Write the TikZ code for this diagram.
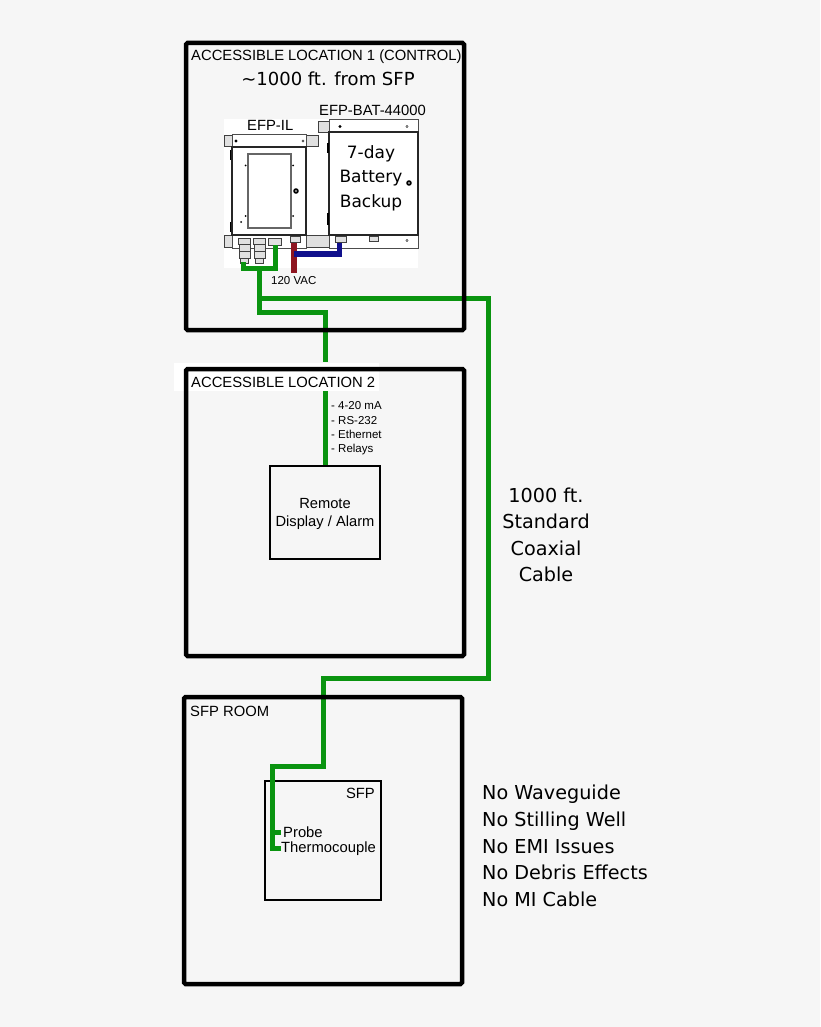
\documentclass[tikz,border=0pt]{standalone}
\usepackage{fontspec}
\setmainfont{Liberation Sans}
\newfontfamily\bigfam{DejaVu Sans}
\definecolor{pagebg}{HTML}{F6F6F6}
\definecolor{wire}{HTML}{0A9410}
\definecolor{acred}{HTML}{8E1520}
\definecolor{dcblue}{HTML}{10108C}
\tikzset{
 room/.style={draw=black,line width=4.5pt,rounded corners=1.5pt},
 box/.style={draw=black,line width=1.4pt},
 wirepath/.style={draw=wire,line width=5pt},
 part/.style={draw=black!85,line width=1.3pt,fill=white},
 thin part/.style={draw=black!70,line width=0.8pt,fill=white},
 gland/.style={draw=black!75,line width=0.9pt,fill=black!12},
 lab/.style={font=\fontsize{14.8}{16}\selectfont,anchor=west,inner sep=0pt},
 small/.style={font=\fontsize{11.5}{13}\selectfont,anchor=west,inner sep=0pt},
 biglab/.style={font=\bigfam\fontsize{17}{20}\selectfont,inner sep=0pt},
}
\begin{document}
\begin{tikzpicture}[x=1pt,y=-1pt]
\useasboundingbox (0,0) rectangle (820,1027);
\fill[pagebg] (0,0) rectangle (820,1027);
% coordinates of the wire runs
\coordinate (hub) at (259,268);
\coordinate (j1) at (259,298);
\coordinate (j2) at (259,312);
\coordinate (j3) at (325,312);
\coordinate (j4) at (325,362);
\coordinate (r1) at (488,298);
\coordinate (r2) at (488,678);
\coordinate (r3) at (323,678);
\coordinate (r4) at (323,766);
\coordinate (r5) at (272,766);
% white panels
\fill[white] (224,119) rectangle (418,268);
% rooms' content wires first
\draw[wirepath] (hub) -- (j2) -- (j3) -- (j4);
\draw[wirepath,line join=miter] (j1) -- (r1) -- (r2) -- (r3) -- (r4) -- (r5) -- (272,848) -- (281,848);
\draw[wirepath] (272,832) -- (281,832);
\fill[white] (174,363) rectangle (379,391);
\draw[room] (186,43) rectangle (464,330);
\draw[room] (186,369) rectangle (464,656);
\draw[room] (184,697) rectangle (462,984);
% EFP-IL enclosure
\draw[gland] (224,135) rectangle (232,146);
\draw[gland] (306,135) rectangle (318,146);
\draw[gland] (224,235) rectangle (232,247);
\draw[gland] (306,235) rectangle (329,247);
\draw[thin part] (232,134) rectangle (306,147);
\draw[thin part] (232,235) rectangle (306,248);
\draw[part] (232,147) rectangle (306,235);
\draw[thin part,draw=black!60,line width=1.2pt] (248,154) rectangle (291,228);
\fill (236,141) circle (1.6);
\draw (303,141) circle (1.2);
\fill (296,191) circle (2.8);
\fill[white] (296,191) circle (0.8);
\foreach \p in {(245.5,165.5),(293,165.5),(245.5,216),(293,216),(241,222)} \fill \p circle (1);
\draw[line width=1.5pt] (230.5,150) -- (230.5,160) (230.5,222) -- (230.5,232);
% battery enclosure
\draw[gland] (318,121) rectangle (329,132);
\draw[thin part] (329,119) rectangle (418,132);
\draw[thin part] (329,235) rectangle (418,248);
\draw[part] (329,132) rectangle (418,235);
\fill (340,126.5) circle (1.6);
\draw (407,126.5) circle (1.2);
\draw (407,240.5) circle (1.2);
\fill (409,183) circle (2.8);
\fill[white] (409,183) circle (0.8);
\draw[line width=1.5pt] (328,143) -- (328,153) (328,213) -- (328,225);
\draw[gland] (369,236) rectangle (378,241);
% cable glands
\foreach \x in {244.7,259.5} {
 \draw[gland] (\x-6,238) rectangle (\x+6,244);
 \draw[gland] (\x-5.5,244) rectangle (\x+5.5,251);
 \draw[gland] (\x-5.5,251) rectangle (\x+5.5,258);
 \draw[gland] (\x-4,258) rectangle (\x+4,263);
}
\draw[gland] (268,238) rectangle (281,245);
\draw[gland] (290,236) rectangle (300,242);
\draw[gland] (335,236) rectangle (346,242);
% local power and cable links
\draw[acred,line width=5.5pt] (294,243) -- (294,273);
\draw[dcblue,line width=5.5pt] (294,254) -- (339.5,254) -- (339.5,243);
\draw[wirepath] (275,245) -- (275,268) -- (243,268) -- (243,262);
% labels
\node[lab,anchor=north west] (l1) at (191,50) {ACCESSIBLE LOCATION 1 (CONTROL)};
\node[biglab] (dist) at (328,79) {\fontsize{18}{20}\selectfont\textasciitilde1000 ft. from SFP};
\node[lab] (bat) at (319,110) {EFP-BAT-44000};
\node[lab] (il) at (247,125) {EFP-IL};
\node[biglab,align=center] (batt) at (371,178) {7-day\\[4.5pt]Battery\\[4.5pt]Backup};
\node[small] (vac) at (271,281) {120 VAC};
\node[lab] (l2) at (191,382) {ACCESSIBLE LOCATION 2};
\node[small,align=left] (sig) at (331,428.5) {- 4-20 mA\\[1.4pt]- RS-232\\[1.4pt]- Ethernet\\[1.4pt]- Relays};
\node[box,minimum width=110pt,minimum height=93pt,inner sep=0pt,align=center,font=\fontsize{14.7}{18}\selectfont] (remote) at (325,512.5) {\rule{0pt}{14pt}Remote\\Display / Alarm};
\draw[wirepath] (325,391) -- (remote.north);
\node[biglab,align=center] (coax) at (546,535) {\fontsize{19.2}{20}\selectfont 1000 ft.\\[6.5pt]\fontsize{19.2}{20}\selectfont Standard\\[6.5pt]\fontsize{19.2}{20}\selectfont Coaxial\\[6.5pt]\fontsize{19.2}{20}\selectfont Cable};
\node[lab] (l3) at (190,711) {SFP ROOM};
\node[box,minimum width=116pt,minimum height=119pt,inner sep=0pt] (sfp) at (323,840.5) {};
\draw[wirepath] (r5) -- (272,790);
\node[lab,anchor=east] (sfpl) at (375,793) {SFP};
\node[lab] (probe) at (283,832) {Probe};
\node[lab] (tc) at (281,849) {Thermocouple};
\node[biglab,align=left,anchor=north west,font=\bigfam\fontsize{19.2}{20}\selectfont] (no) at (482,785) {No Waveguide\\[6.7pt]No Stilling Well\\[6.7pt]No EMI Issues\\[6.7pt]No Debris Effects\\[6.7pt]No MI Cable};
\end{tikzpicture}
\end{document}
